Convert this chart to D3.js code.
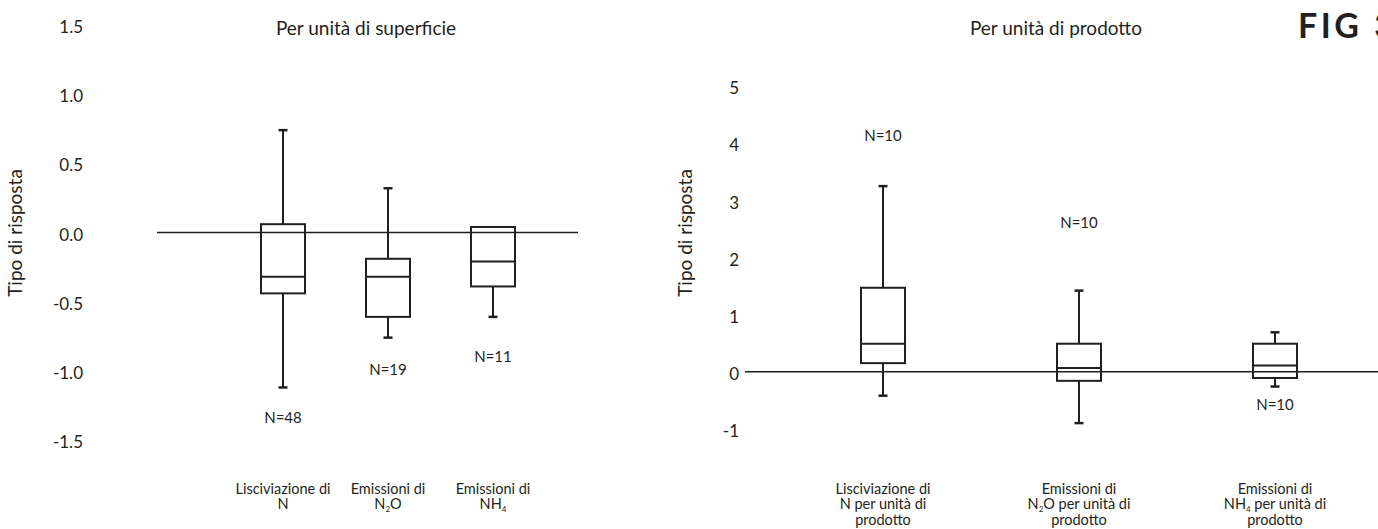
<!DOCTYPE html>
<html>
<head>
<meta charset="utf-8">
<script src="https://cdn.jsdelivr.net/npm/d3@7"></script>
<style>
  body { margin: 0; background: #fff; }
  svg { display: block; font-family: Lato, "Noto Sans", sans-serif; }
  text { fill: #231f20; }
</style>
</head>
<body>
<div id="chart"></div>
<script>
// left panel - per unit of surface
var leftCats = [["Lisciviazione di", "N"], ["Emissioni di", "N_2O"], ["Emissioni di", "NH_4"]];
var leftN = [48, 19, 11];
var leftMax = [0.74, 0.32, 0.04];
var leftQ3 = [0.06, -0.19, 0.04];
var leftMed = [-0.32, -0.32, -0.21];
var leftQ1 = [-0.44, -0.61, -0.39];
var leftMin = [-1.12, -0.76, -0.61];
var leftNAt = [-1.34, -0.99, -0.90];
var leftTicks = [-1.5, -1.0, -0.5, 0.0, 0.5, 1.0, 1.5];

// right panel - per unit of product
var rightCats = [["Lisciviazione di", "N per unità di", "prodotto"],
                 ["Emissioni di", "N_2O per unità di", "prodotto"],
                 ["Emissioni di", "NH_4 per unità di", "prodotto"]];
var rightN = [10, 10, 10];
var rightMax = [3.25, 1.42, 0.69];
var rightQ3 = [1.47, 0.49, 0.49];
var rightMed = [0.49, 0.065, 0.11];
var rightQ1 = [0.15, -0.16, -0.11];
var rightMin = [-0.42, -0.90, -0.26];
var rightNAt = [4.13, 2.61, -0.58];
var rightTicks = [-1, 0, 1, 2, 3, 4, 5];

var width = 1378, height = 529;
var ink = "#231f20";

var svg = d3.select("#chart")
  .append("svg")
  .attr("width", width)
  .attr("height", height);

function drawPanel(p) {
  var g = svg.append("g");

  var x = d3.scalePoint()
    .domain(d3.range(p.cats.length))
    .range(p.xRange);

  var y = d3.scaleLinear()
    .domain(p.yDomain)
    .range(p.yRange);

  // Y axis: labels only
  var yAxis = g.append("g")
    .attr("transform", "translate(" + p.axisX + ",0)")
    .call(d3.axisLeft(y).tickValues(p.ticks).tickSize(0).tickPadding(0).tickFormat(p.fmt));
  yAxis.select(".domain").remove();
  yAxis.selectAll("text")
    .attr("dy", "0.45em")
    .style("font-size", "17px")
    .style("font-family", "Lato, sans-serif")
    .attr("fill", ink);

  // axis title
  g.append("text")
    .attr("transform", "translate(" + p.titleX + ",233) rotate(-90)")
    .attr("text-anchor", "middle")
    .attr("dy", "0.35em")
    .style("font-size", "19px")
    .text("Tipo di risposta");

  // panel title
  g.append("text")
    .attr("x", p.headX)
    .attr("y", 28)
    .attr("dy", "0.35em")
    .attr("text-anchor", "middle")
    .style("font-size", "19px")
    .text(p.head);

  // zero line
  g.append("line")
    .attr("x1", p.zeroX[0])
    .attr("x2", p.zeroX[1])
    .attr("y1", y(0))
    .attr("y2", y(0))
    .attr("stroke", ink)
    .attr("stroke-width", 1.6);

  var boxW = 44, capW = 9;

  p.cats.forEach(function(c, i) {
    var cx = x(i);

    // whiskers
    if (p.max[i] > p.q3[i]) {
      g.append("line")
        .attr("x1", cx).attr("x2", cx)
        .attr("y1", y(p.max[i])).attr("y2", y(p.q3[i]))
        .attr("stroke", ink).attr("stroke-width", 2);
      g.append("line")
        .attr("x1", cx - capW / 2).attr("x2", cx + capW / 2)
        .attr("y1", y(p.max[i])).attr("y2", y(p.max[i]))
        .attr("stroke", ink).attr("stroke-width", 2.5);
    }
    if (p.min[i] < p.q1[i]) {
      g.append("line")
        .attr("x1", cx).attr("x2", cx)
        .attr("y1", y(p.q1[i])).attr("y2", y(p.min[i]))
        .attr("stroke", ink).attr("stroke-width", 2);
      g.append("line")
        .attr("x1", cx - capW / 2).attr("x2", cx + capW / 2)
        .attr("y1", y(p.min[i])).attr("y2", y(p.min[i]))
        .attr("stroke", ink).attr("stroke-width", 2.5);
    }

    // box
    g.append("rect")
      .attr("x", cx - boxW / 2)
      .attr("y", y(p.q3[i]))
      .attr("width", boxW)
      .attr("height", y(p.q1[i]) - y(p.q3[i]))
      .attr("fill", "none")
      .attr("stroke", ink)
      .attr("stroke-width", 2);

    // median
    g.append("line")
      .attr("x1", cx - boxW / 2).attr("x2", cx + boxW / 2)
      .attr("y1", y(p.med[i])).attr("y2", y(p.med[i]))
      .attr("stroke", ink).attr("stroke-width", 2);

    // N label
    g.append("text")
      .attr("x", cx)
      .attr("y", y(p.nAt[i]))
      .attr("dy", "0.35em")
      .attr("text-anchor", "middle")
      .style("font-size", "15px")
      .text("N=" + p.n[i]);

    // category label, one text per line, "_" marks a subscript digit
    c.forEach(function(line, j) {
      var lab = g.append("text")
        .attr("x", cx)
        .attr("y", p.labelY + j * 15.3)
        .attr("text-anchor", "middle")
        .style("font-size", "14.5px");
      var parts = line.split(/_(\d)/);
      parts.forEach(function(s, k) {
        var t = lab.append("tspan").text(s);
        if (k % 2 === 1) {
          t.attr("dy", 2.5).style("font-size", "8px");
        } else if (k > 0) {
          t.attr("dy", -2.5);
        }
      });
    });
  });
}

drawPanel({
  cats: leftCats, n: leftN, max: leftMax, q3: leftQ3, med: leftMed, q1: leftQ1, min: leftMin,
  nAt: leftNAt, ticks: leftTicks,
  fmt: function(d) { return d.toFixed(1); },
  xRange: [283, 493], yDomain: [-1.5, 1.5], yRange: [440, 25],
  axisX: 83, titleX: 15, headX: 366, head: "Per unità di superficie",
  zeroX: [157, 578], labelY: 494
});

drawPanel({
  cats: rightCats, n: rightN, max: rightMax, q3: rightQ3, med: rightMed, q1: rightQ1, min: rightMin,
  nAt: rightNAt, ticks: rightTicks,
  fmt: function(d) { return String(d); },
  xRange: [883, 1275], yDomain: [-1, 5], yRange: [428.8, 86.2],
  axisX: 739, titleX: 685, headX: 1056, head: "Per unità di prodotto",
  zeroX: [745, 1378], labelY: 494
});

// figure tag, cut by the right edge as in the original
svg.append("text")
  .attr("x", 1298)
  .attr("y", 38)
  .style("font-size", "34px")
  .style("font-weight", "bold")
  .style("letter-spacing", "3.5px")
  .text("FIG 3");
</script>
</body>
</html>
